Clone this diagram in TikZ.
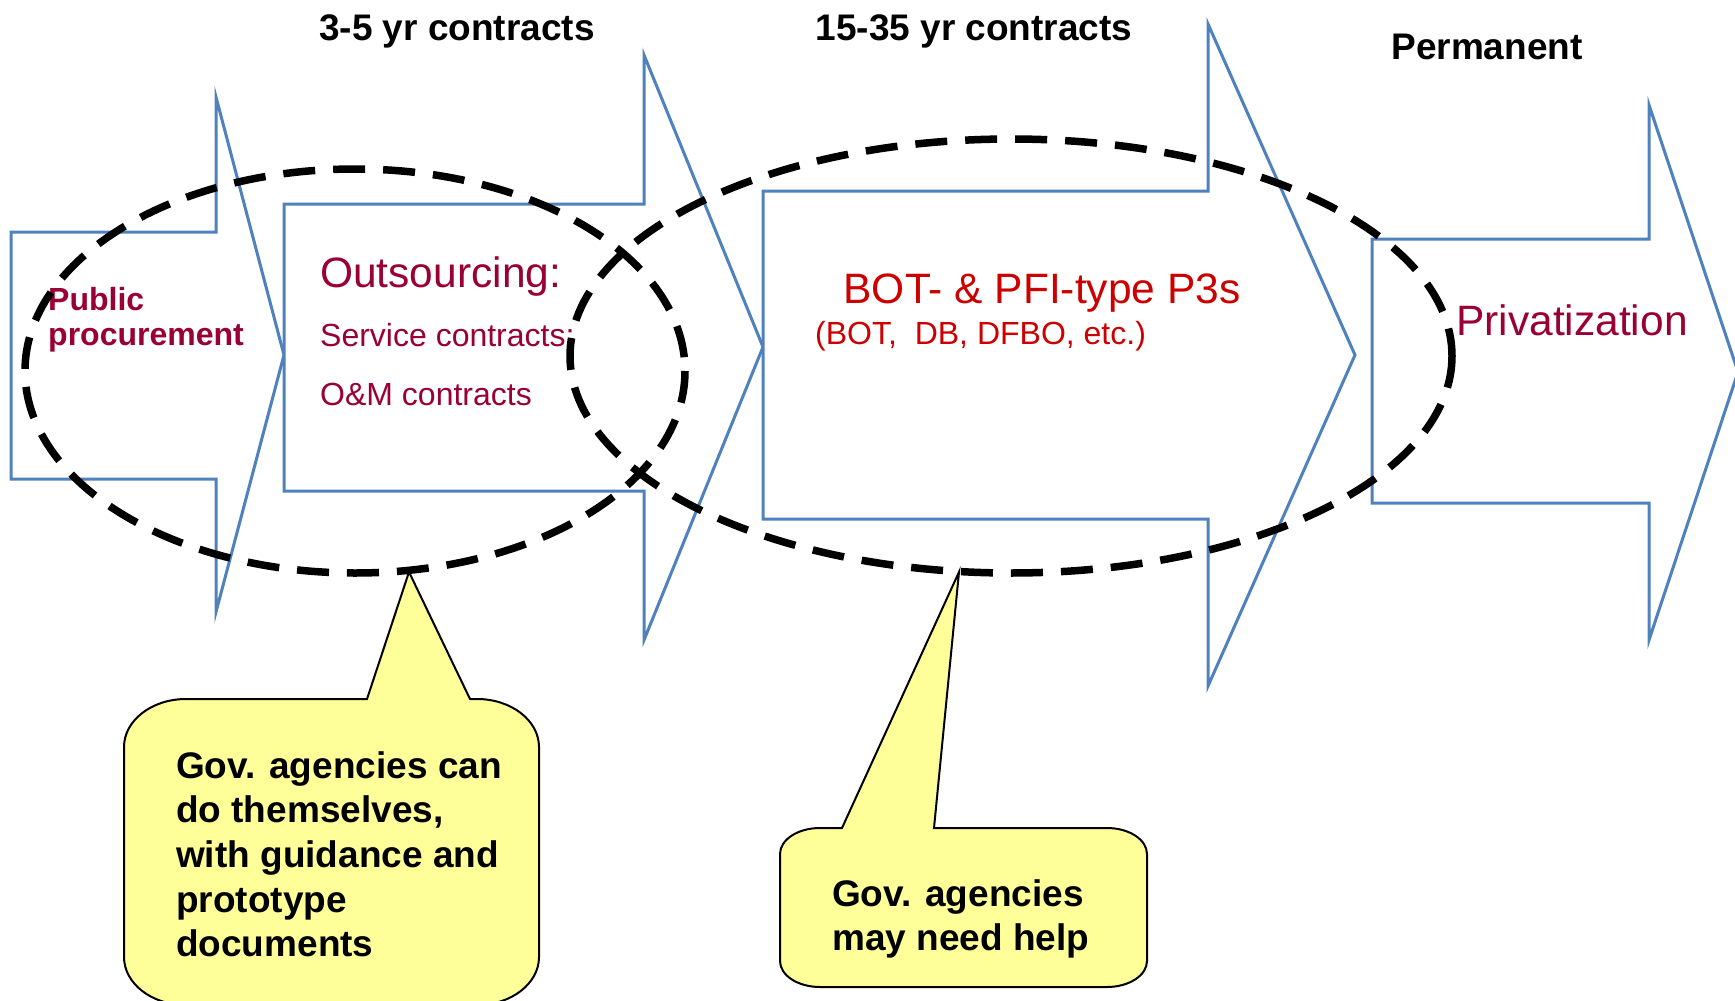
\documentclass[tikz,border=0pt]{standalone}
\usepackage{fontspec}
\setmainfont{Liberation Sans}
\definecolor{stageblue}{RGB}{79,129,189}
\definecolor{maroontext}{RGB}{153,0,51}
\definecolor{redtext}{RGB}{204,0,0}
\definecolor{noteyellow}{RGB}{255,255,153}
\begin{document}
\begin{tikzpicture}[x=1pt,y=-1pt,
  stage/.style={draw=stageblue, line width=3pt, fill=white, line join=miter},
  scopering/.style={draw=black, line width=7.5pt, dash pattern=on 32pt off 18pt},
  bubble/.style={draw=black, line width=2pt, fill=noteyellow, line join=miter},
  period/.style={font=\fontsize{37}{44}\selectfont\bfseries, anchor=base, inner sep=0pt},
  bigred/.style={font=\fontsize{42.5}{50}\selectfont, anchor=base west, inner sep=0pt},
  smallred/.style={font=\fontsize{32}{38}\selectfont, anchor=base west, inner sep=0pt},
  notetext/.style={font=\fontsize{37}{44.7}\selectfont\bfseries, anchor=base west, inner sep=0pt, align=left}
]
\useasboundingbox (0,0) rectangle (1735,1001);
\begin{scope}
\clip (0,0) rectangle (1735,1001);

% stage arrows
\draw[stage] (11,232) -- (216,232) -- (216,97) -- (284,355) -- (216,612) -- (216,479) -- (11,479) -- cycle;
\draw[stage] (284,204) -- (644,204) -- (644,55) -- (763,347) -- (644,640) -- (644,491) -- (284,491) -- cycle;
\draw[stage] (763,191) -- (1208,191) -- (1208,24) -- (1355,355) -- (1208,686) -- (1208,519) -- (763,519) -- cycle;
\draw[stage] (1372,239) -- (1649,239) -- (1649,105) -- (1738,372) -- (1649,640) -- (1649,503) -- (1372,503) -- cycle;

% period labels
\node[period] (short) at (457,40) {3-5 yr contracts};
\node[period] (long) at (974,40) {15-35 yr contracts};
\node[period] (perm) at (1487,59) {Permanent};

% stage texts
\node[font=\fontsize{32}{35}\selectfont\bfseries, text=maroontext, anchor=base west, inner sep=0pt] (pub1) at (48,310) {Public};
\node[font=\fontsize{32}{35}\selectfont\bfseries, text=maroontext, anchor=base west, inner sep=0pt] (pub2) at (48,345) {procurement};
\node[bigred, text=maroontext] (outs) at (320,287) {Outsourcing:};
\node[smallred, text=maroontext] (svc) at (320,346) {Service contracts;};
\node[smallred, text=maroontext] (om) at (320,405) {O\&M contracts};
\node[bigred, text=redtext, anchor=base] (bot) at (1042,303) {BOT- \& PFI-type P3s};
\node[smallred, text=redtext] (botlist) at (815,344) {(BOT,\ \ DB, DFBO, etc.)};
\node[bigred, text=maroontext] (priv) at (1456,335) {Privatization};

% dashed scope rings
\draw[scopering] (355,371) ellipse [x radius=330, y radius=202];
\draw[scopering] (1011,356) ellipse [x radius=441, y radius=217];

% note bubbles: rounded boxes with a pointer on the top edge
\coordinate (tipA) at (409,572);
\coordinate (tipB) at (959,572);
\draw[bubble] (186,699) -- (367,699) -- (tipA) -- (470,699) -- (477,699)
  arc[start angle=-90, end angle=0, x radius=62, y radius=48] -- (539,957)
  arc[start angle=0, end angle=90, x radius=62, y radius=48] -- (186,1005)
  arc[start angle=90, end angle=180, x radius=62, y radius=48] -- (124,747)
  arc[start angle=180, end angle=270, x radius=62, y radius=48] -- cycle;
\draw[bubble] (820,828) -- (842,828) -- (tipB) -- (934,828) -- (1107,828)
  arc[start angle=-90, end angle=0, x radius=40, y radius=26] -- (1147,961)
  arc[start angle=0, end angle=90, x radius=40, y radius=26] -- (820,987)
  arc[start angle=90, end angle=180, x radius=40, y radius=26] -- (780,854)
  arc[start angle=180, end angle=270, x radius=40, y radius=26] -- cycle;

\node[notetext] (noteA1) at (176,778) {Gov. agencies can};
\node[notetext] (noteA2) at (176,822) {do themselves,};
\node[notetext] (noteA3) at (176,867) {with guidance and};
\node[notetext] (noteA4) at (176,912) {prototype};
\node[notetext] (noteA5) at (176,956) {documents};
\node[notetext] (noteB1) at (832,906) {Gov. agencies};
\node[notetext] (noteB2) at (832,950) {may need help};
\end{scope}
\end{tikzpicture}
\end{document}
